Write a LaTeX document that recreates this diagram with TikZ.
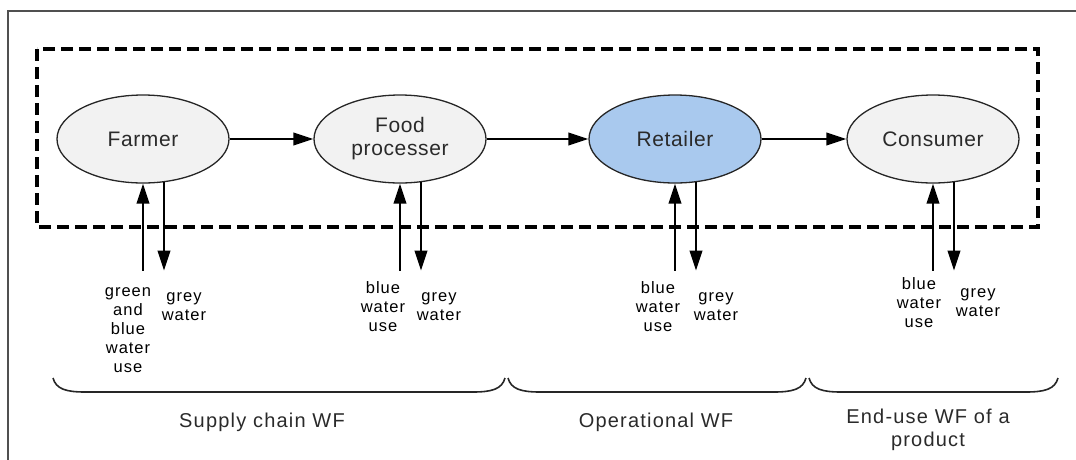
\documentclass[tikz,border=0pt]{standalone}
\usepackage{fontspec}
\setmainfont{Liberation Sans}
\newfontfamily\spacedA[LetterSpace=3]{Liberation Sans}
\newfontfamily\spacedB[LetterSpace=6]{Liberation Sans}
\usetikzlibrary{shapes.geometric,arrows.meta,calc}
\definecolor{framegray}{HTML}{505050}
\definecolor{ellfill}{HTML}{F2F2F2}
\definecolor{retfill}{HTML}{A9C9EE}
\definecolor{txtgray}{HTML}{2A2A2A}
\tikzset{
  actor/.style={ellipse, draw=black!85, line width=1.3pt, fill=ellfill,
    minimum width=172pt, minimum height=88pt, inner sep=0pt, align=center,
    font=\spacedA\fontsize{21}{23}\selectfont, text=txtgray},
  flow/.style={line width=2.3pt, -{Triangle[length=20pt,width=12.5pt]}},
  wlabel/.style={align=center, font=\spacedB\fontsize{16.5}{19}\selectfont, inner sep=0pt},
  blabel/.style={align=center, font=\spacedB\fontsize{20}{23}\selectfont, inner sep=0pt, text=txtgray},
  bracket/.style={line width=1.6pt, black!85},
  boundary/.style={line width=3.2pt, dash pattern=on 12pt off 6pt}
}
\begin{document}
\begin{tikzpicture}[x=1pt,y=-1pt]
\useasboundingbox (0,0) rectangle (1076,459);
% outer frame
\draw[framegray, line width=1.8pt] (8,470) -- (8,11) -- (1090,11);
% dashed system boundary
\draw[boundary] (37,49) rectangle (1038,227);
% actors
\node[actor] (farmer) at (143,139) {Farmer};
\node[actor] (food) at (400,139) {Food\\processer};
\node[actor, fill=retfill] (retailer) at (675,139) {Retailer};
\node[actor] (consumer) at (933,139) {Consumer};
\draw[flow] (farmer) -- (food);
\draw[flow] (food) -- (retailer);
\draw[flow] (retailer) -- (consumer);
% water flows
\foreach \n in {farmer,food,retailer,consumer}{
  \coordinate (\n-in) at ($(\n.south)+(0,87)$);
  \coordinate (\n-out) at ($(\n.south)+(21,87)$);
  \draw[flow] (\n-in) -- (\n.south);
  \draw[flow] ($(\n.south)+(21,-1.5)$) -- (\n-out);
}
% water labels
\node[wlabel] (farmer-use) at (128,330) {green\\and\\blue\\water\\use};
\node[wlabel] (farmer-grey) at (184,307) {grey\\water};
\node[wlabel] (food-use) at (383,307) {blue\\water\\use};
\node[wlabel] (food-grey) at (439,307) {grey\\water};
\node[wlabel] (retailer-use) at (658,307) {blue\\water\\use};
\node[wlabel] (retailer-grey) at (716,307) {grey\\water};
\node[wlabel] (consumer-use) at (919,303) {blue\\water\\use};
\node[wlabel] (consumer-grey) at (978,303) {grey\\water};
% brackets
\draw[bracket] (53,378) .. controls (56,389) and (66,392) .. (85,392) -- (473,392) .. controls (492,392) and (502,389) .. (505,378);
\draw[bracket] (508,378) .. controls (511,389) and (521,392) .. (540,392) -- (774,392) .. controls (793,392) and (803,389) .. (806,378);
\draw[bracket] (809,378) .. controls (812,389) and (822,392) .. (841,392) -- (1026,392) .. controls (1045,392) and (1055,389) .. (1058,378);
% group labels
\node[blabel] (supply) at (262,422) {Supply chain WF};
\node[blabel] (oper) at (656,422) {Operational WF};
\node[blabel] (enduse) at (928,430) {End-use WF of a\\product};
\end{tikzpicture}
\end{document}
